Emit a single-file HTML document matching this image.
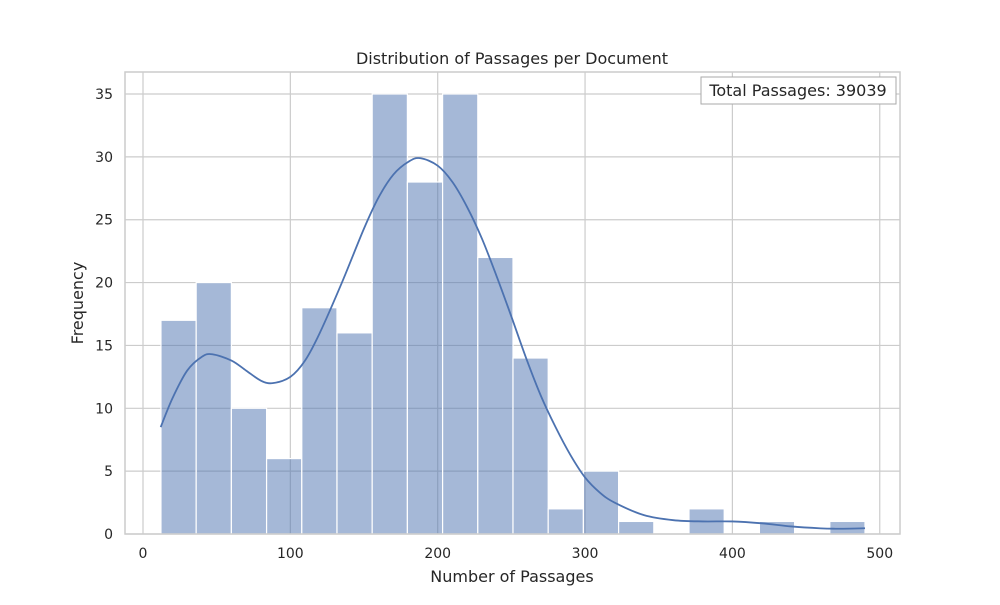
<!DOCTYPE html>
<html><head><meta charset="utf-8"><style>
body{margin:0;background:#fff;font-family:"Liberation Sans","DejaVu Sans",sans-serif}
</style></head><body>
<svg id="chart" width="1000" height="600" xmlns="http://www.w3.org/2000/svg" font-family="DejaVu Sans, Liberation Sans, sans-serif">
<rect width="1000" height="600" fill="#fff"/>
<g id="grid"></g><g id="bars"></g><g id="kde"></g><g id="axes"></g>
</svg>
<script>
const binStart = 12.2;
const binEnd = 490;
const counts = [17,20,10,6,18,16,35,28,35,22,14,2,5,1,0,2,0,1,0,1];
const kdeX = [12,20,30,40,47,60,70,80,88,100,110,120,135,150,160,170,180,188,200,210,220,230,240,250,260,270,280,290,300,310,320,340,360,380,400,420,440,460,470,480,490];
const kdeY = [8.5,10.8,13,14.1,14.3,13.8,13,12.2,12,12.5,13.8,16,20,24.3,26.8,28.6,29.6,29.9,29.3,28,26,23.5,20.5,17.3,14,11,8.5,6.3,4.5,3.3,2.5,1.5,1.1,1,1,0.85,0.6,0.45,0.42,0.43,0.46];
const xTicks = [0,100,200,300,400,500];
const yTicks = [0,5,10,15,20,25,30,35];
const X = v => 143 + v*1.4735;
const Y = v => 534 - v*12.571;
const NS="http://www.w3.org/2000/svg";
function mk(parent,tag,attrs){const e=document.createElementNS(NS,tag);for(const k in attrs)e.setAttribute(k,attrs[k]);document.getElementById(parent).appendChild(e);return e;}
const L=125,R=900,T=72,B=534;
xTicks.forEach(t=>{const l=mk('grid','line',{x1:X(t),x2:X(t),y1:T,y2:B,stroke:'#ccc','stroke-width':1.2});

const tx=mk('axes','text',{x:X(t),y:558,'text-anchor':'middle','font-size':14,fill:'#262626'});tx.textContent=t;
});
yTicks.forEach(t=>{const l=mk('grid','line',{x1:L,x2:R,y1:Y(t),y2:Y(t),stroke:'#ccc','stroke-width':1.2});

const tx=mk('axes','text',{x:113,y:Y(t)+5,'text-anchor':'end','font-size':14,fill:'#262626'});tx.textContent=t;
});
const w=(binEnd-binStart)/counts.length;
counts.forEach((c,i)=>{if(!c)return;const x0=X(binStart+i*w),x1=X(binStart+(i+1)*w);
const r=mk('bars','rect',{x:x0,y:Y(c),width:x1-x0,height:Y(0)-Y(c),fill:'rgba(76,114,176,0.5)',stroke:'#fff','stroke-width':1.2});
});
const pts=kdeX.map((x,i)=>[X(x),Y(kdeY[i])]);
let d='M'+pts[0][0]+','+pts[0][1];
for(let i=0;i<pts.length-1;i++){const p0=pts[Math.max(0,i-1)],p1=pts[i],p2=pts[i+1],p3=pts[Math.min(pts.length-1,i+2)];
d+='C'+(p1[0]+(p2[0]-p0[0])/6)+','+(p1[1]+(p2[1]-p0[1])/6)+' '+(p2[0]-(p3[0]-p1[0])/6)+','+(p2[1]-(p3[1]-p1[1])/6)+' '+p2[0]+','+p2[1];}
const p=mk('kde','path',{d:d,fill:'none',stroke:'#4c72b0','stroke-width':1.8});

const fr=mk('axes','rect',{x:L,y:T,width:R-L,height:B-T,fill:'none',stroke:'#ccc','stroke-width':1.5});

const ti=mk('axes','text',{x:512,y:64,'text-anchor':'middle','font-size':16,fill:'#262626'});ti.textContent='Distribution of Passages per Document';

const xl=mk('axes','text',{x:512,y:582,'text-anchor':'middle','font-size':16,fill:'#262626'});xl.textContent='Number of Passages';

const yl=mk('axes','text',{x:0,y:0,transform:'translate(83,303) rotate(-90)','text-anchor':'middle','font-size':16,fill:'#262626'});yl.textContent='Frequency';

const bx=mk('axes','rect',{x:701,y:77,width:195,height:27,fill:'#fff',stroke:'#aaa','stroke-width':1});

const bt=mk('axes','text',{x:798,y:96,'text-anchor':'middle','font-size':16,fill:'#262626'});bt.textContent='Total Passages: 39039';

</script>
</body></html>
